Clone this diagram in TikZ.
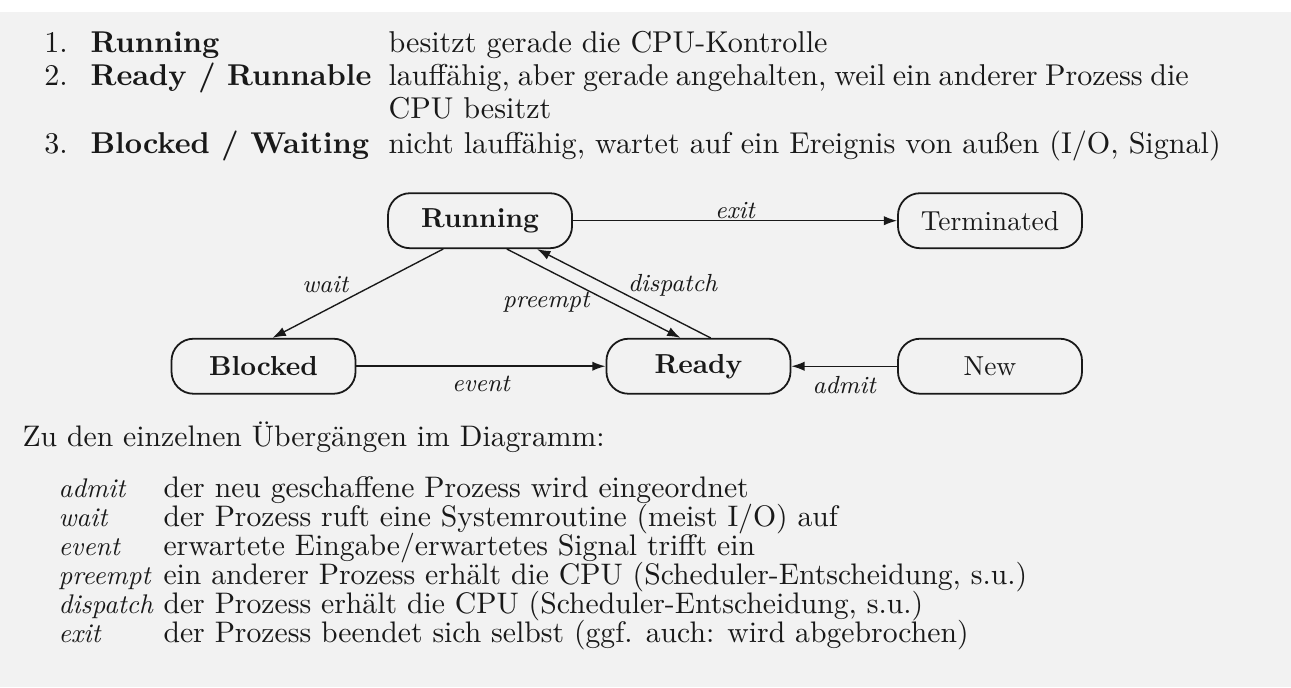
\documentclass[tikz,border=0pt]{standalone}
\usepackage{tikz}
\usetikzlibrary{arrows.meta}
\usepackage{xcolor}

\begin{document}
\begin{tikzpicture}[>={Latex[length=1.7mm,width=1.2mm]},line cap=round,color=black!90,
  zustand/.style={draw,rounded corners=8pt,minimum width=2.352cm,minimum height=0.703cm,inner sep=0pt,line width=0.65pt},
  lbl/.style={font=\small\itshape},
  txt/.style={anchor=base west,inner sep=0pt,font=\fontsize{10.95}{13}\selectfont},
  txtb/.style={anchor=base west,inner sep=0pt,font=\fontsize{10.8}{13}\selectfont},
  term/.style={anchor=base west,inner sep=0pt,font=\fontsize{9.8}{12}\selectfont\itshape}]
\useasboundingbox (0,0) rectangle (16.5,8.781);
\fill[white] (0,0) rectangle (16.5,8.781);
\fill[black!5] (0,0) rectangle (16.5,8.627);
% Zustaende
\node[txt] (n1) at (0.560,8.116) {1.};
\node[txt] (l1) at (1.150,8.116) {\bfseries Running};
\node[txt] (d1) at (4.959,8.116) {besitzt gerade die CPU-Kontrolle};
\node[txt] (n2) at (0.560,7.694) {2.};
\node[txt] (l2) at (1.150,7.694) {\bfseries Ready / Runnable};
\node[txt] (d2) at (4.959,7.694) {\makebox[291pt][s]{lauffähig, aber gerade angehalten, weil ein anderer Prozess die}};
\node[txt] (d2b) at (4.959,7.272) {CPU besitzt};
\node[txt] (n3) at (0.560,6.825) {3.};
\node[txt] (l3) at (1.150,6.825) {\bfseries Blocked / Waiting};
\node[txt] (d3) at (4.959,6.825) {nicht lauffähig, wartet auf ein Ereignis von außen (I/O, Signal)};
% Diagramm
\node[zustand,font=\bfseries] (run) at (6.135,5.96) {Running};
\node[zustand] (term) at (12.653,5.96) {Terminated};
\node[zustand,font=\bfseries] (blk) at (3.368,4.10) {Blocked};
\node[zustand,font=\bfseries] (rdy) at (8.927,4.10) {Ready};
\node[zustand] (new) at (12.653,4.10) {New};
\draw[->,line width=0.5pt] (run) -- node[lbl,above=-3pt]{exit} (term);
\draw[->,line width=0.5pt] ([xshift=-0.473cm]run.south) -- node[lbl,xshift=-11.8pt,yshift=3.3pt]{wait} ([xshift=0.115cm]blk.north);
\draw[->,line width=0.5pt] ([xshift=0.345cm]run.south) -- node[lbl,xshift=-17.3pt,yshift=-3.3pt]{preempt} ([xshift=-0.230cm]rdy.north);
\draw[->,line width=0.5pt] ([xshift=0.153cm]rdy.north) -- node[lbl,xshift=17.8pt,yshift=2.9pt]{dispatch} ([xshift=0.729cm]run.south);
\draw[->,line width=0.6pt] (blk) -- node[lbl,below]{event} (rdy);
\draw[->,line width=0.5pt] (new) -- node[lbl,below]{admit} (rdy);
% Uebergaenge
\node[txtb] (zu) at (0.281,3.080) {Zu den einzelnen Übergängen im Diagramm:};
\node[term] (t1) at (0.741,2.428) {admit};
\node[txtb] (e1) at (2.083,2.428) {der neu geschaffene Prozess wird eingeordnet};
\node[term] (t2) at (0.741,2.058) {wait};
\node[txtb] (e2) at (2.083,2.058) {der Prozess ruft eine Systemroutine (meist I/O) auf};
\node[term] (t3) at (0.741,1.687) {event};
\node[txtb] (e3) at (2.083,1.687) {erwartete Eingabe/erwartetes Signal trifft ein};
\node[term] (t4) at (0.741,1.316) {preempt};
\node[txtb] (e4) at (2.083,1.316) {ein anderer Prozess erhält die CPU (Scheduler-Entscheidung, s.u.)};
\node[term] (t5) at (0.741,0.946) {dispatch};
\node[txtb] (e5) at (2.083,0.946) {der Prozess erhält die CPU (Scheduler-Entscheidung, s.u.)};
\node[term] (t6) at (0.741,0.575) {exit};
\node[txtb] (e6) at (2.083,0.575) {der Prozess beendet sich selbst (ggf. auch: wird abgebrochen)};
\end{tikzpicture}
\end{document}
